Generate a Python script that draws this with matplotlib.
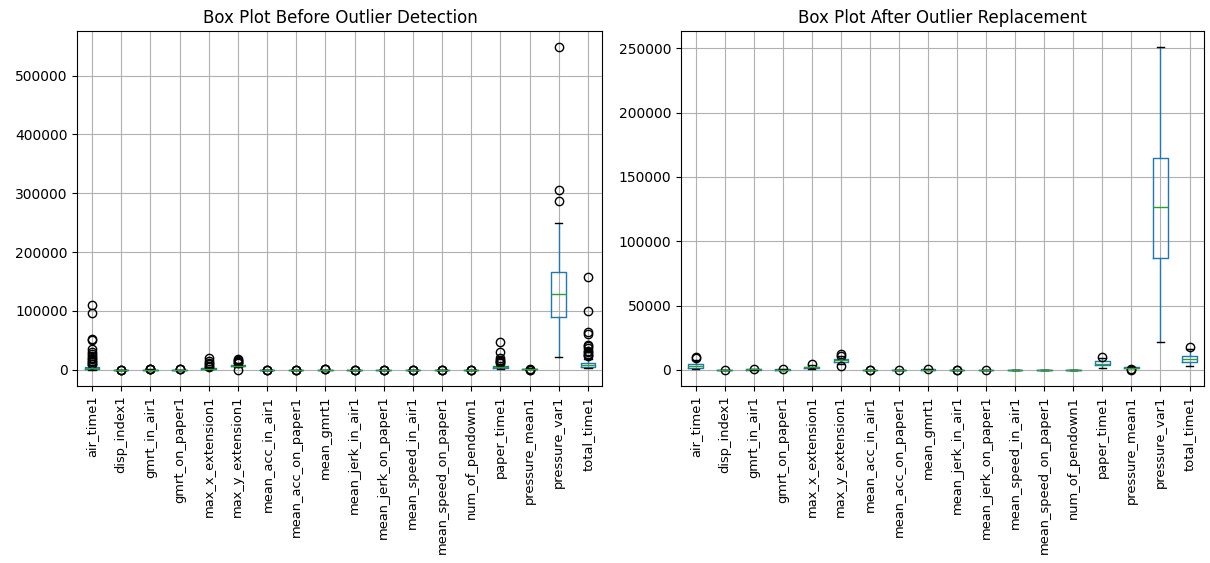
import matplotlib
matplotlib.use("Agg")
import matplotlib.pyplot as plt

columns = [
    "air_time1", "disp_index1", "gmrt_in_air1", "gmrt_on_paper1",
    "max_x_extension1", "max_y_extension1", "mean_acc_in_air1",
    "mean_acc_on_paper1", "mean_gmrt1", "mean_jerk_in_air1",
    "mean_jerk_on_paper1", "mean_speed_in_air1", "mean_speed_on_paper1",
    "num_of_pendown1", "paper_time1", "pressure_mean1", "pressure_var1",
    "total_time1",
]

# Summary statistics per feature before outlier handling
before_whislo = [300, 0.000003, 40, 30, 600, 4200, 0.05, 0.02, 60, 0.005, 0.001,
                 1.0, 0.8, 1, 1200, 900, 22600, 3000]
before_q1 = [1800, 0.000008, 170, 120, 1500, 6000, 0.2, 0.08, 160, 0.015, 0.002,
             3.5, 2.0, 1, 3300, 1500, 88900, 5600]
before_med = [2900, 0.000011, 250, 180, 2000, 7100, 0.3, 0.12, 220, 0.02, 0.003,
              5.0, 3.0, 2, 4600, 1700, 128500, 8000]
before_q3 = [4600, 0.000015, 330, 240, 2600, 8300, 0.45, 0.17, 290, 0.03, 0.004,
             6.5, 4.0, 3, 6200, 1900, 166400, 10900]
before_whishi = [8600, 0.000025, 560, 420, 4200, 11200, 0.8, 0.3, 480, 0.05, 0.007,
                 11.0, 7.0, 6, 10500, 2300, 249600, 18500]
before_fliers = [
    [9200, 10500, 12500, 14800, 17600, 20900, 23800, 26600, 30600, 35100, 51000, 53200, 97300, 110900],
    [0.00004, 0.00006, 0.0001],
    [700, 850, 1100, 1400],
    [600, 750, 900],
    [5600, 6800, 9600, 12200, 15300, 20300],
    [300, 12400, 13600, 15000, 16200, 17800],
    [1.2, 1.6, 2.4],
    [0.5, 0.7, 1.0],
    [700, 900, 1200],
    [0.1, 0.15, 0.3],
    [0.012, 0.02, 0.03],
    [15, 18, 25],
    [10, 12, 16],
    [8, 10, 14],
    [11500, 13000, 15000, 17500, 19500, 31000, 47500],
    [200, 400, 600],
    [287000, 305000, 548500],
    [22800, 25000, 27700, 30600, 32300, 36900, 40200, 42000, 61700, 63500, 100200, 157000],
]

# Summary statistics per feature after outliers were replaced
after_whislo = [300, 0.000003, 40, 30, 900, 4400, 0.05, 0.02, 60, 0.005, 0.001,
                1.0, 0.8, 1, 1300, 1100, 21400, 2700]
after_q1 = [1100, 0.000008, 170, 120, 1600, 6200, 0.2, 0.08, 160, 0.015, 0.002,
            3.5, 2.0, 1, 3400, 1500, 86900, 5700]
after_med = [2800, 0.000011, 250, 180, 2000, 7300, 0.3, 0.12, 220, 0.02, 0.003,
             5.0, 3.0, 2, 4900, 1700, 126400, 8100]
after_q3 = [4900, 0.000015, 330, 240, 2400, 8300, 0.45, 0.17, 290, 0.03, 0.004,
            6.5, 4.0, 3, 6500, 1900, 165100, 10600]
after_whishi = [8000, 0.000025, 560, 420, 3400, 11000, 0.8, 0.3, 480, 0.05, 0.007,
                11.0, 7.0, 6, 8800, 2300, 251000, 16500]
after_fliers = [
    [9300, 10300],
    [0.00004],
    [700],
    [600],
    [4400],
    [3100, 10800, 12400],
    [1.2, 1.5],
    [0.5],
    [700],
    [0.1, 0.15],
    [0.012],
    [],
    [],
    [],
    [9800],
    [200, 400],
    [],
    [17900],
]


def build_stats(lo, q1, med, q3, hi, fl):
    return [
        dict(whislo=a, q1=b, med=c, q3=d, whishi=e, fliers=f, label=name)
        for a, b, c, d, e, f, name in zip(lo, q1, med, q3, hi, fl, columns)
    ]


def draw(ax, stats, title):
    ax.bxp(
        stats,
        positions=range(1, len(stats) + 1),
        widths=0.5,
        boxprops=dict(color="#1f77b4"),
        whiskerprops=dict(color="#1f77b4"),
        capprops=dict(color="black"),
        medianprops=dict(color="#2ca02c"),
        flierprops=dict(marker="o", markerfacecolor="none",
                        markeredgecolor="black", markersize=6),
    )
    ax.set_title(title)
    ax.grid(True)
    ax.tick_params(axis="x", labelrotation=90, labelsize=9.4)


fig = plt.figure(figsize=(12.1, 5.63), dpi=100)
ax1 = fig.add_axes([0.0640, 0.3145, 0.4339, 0.6305])
ax2 = fig.add_axes([0.5628, 0.3145, 0.4323, 0.6305])

draw(ax1, build_stats(before_whislo, before_q1, before_med, before_q3,
                      before_whishi, before_fliers),
     "Box Plot Before Outlier Detection")
draw(ax2, build_stats(after_whislo, after_q1, after_med, after_q3,
                      after_whishi, after_fliers),
     "Box Plot After Outlier Replacement")

fig.savefig("out.png", dpi=100)
